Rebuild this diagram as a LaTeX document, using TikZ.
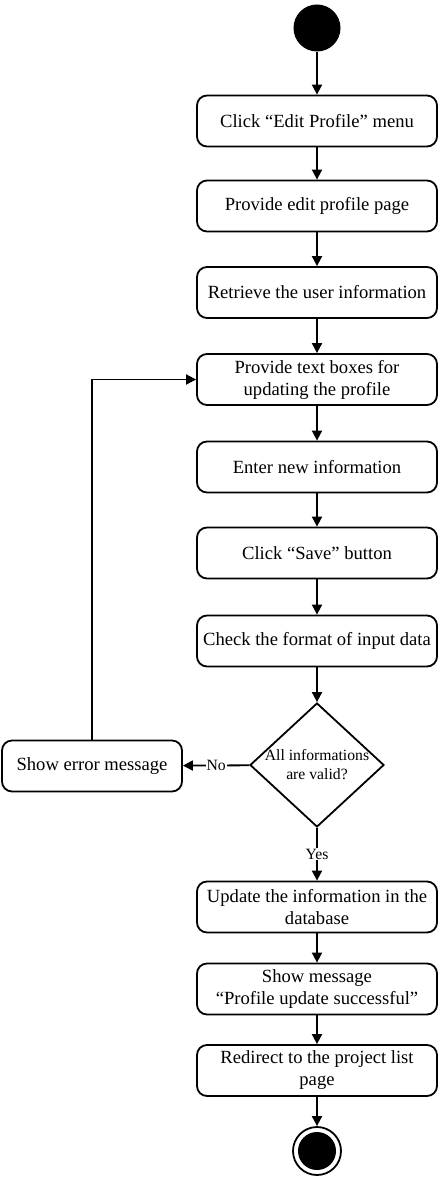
\documentclass[tikz,border=0pt]{standalone}
\usepackage{fontspec}
\setmainfont{Liberation Serif}
\usetikzlibrary{shapes.geometric,arrows.meta}

\begin{document}
\begin{tikzpicture}[x=1pt,y=-1pt,line width=1.8pt,
  >={Triangle[length=10pt,width=10pt]},
  activity/.style={draw,rounded corners=10pt,minimum width=240pt,minimum height=51pt,inner sep=2pt,align=center,font=\fontsize{18.6}{22}\selectfont},
  decision/.style={draw,diamond,aspect=1.08,minimum width=134pt,minimum height=124pt,inner sep=-3pt,align=center,font=\fontsize{15.7}{19}\selectfont},
  guard/.style={fill=white,inner sep=1pt,font=\fontsize{15.7}{18}\selectfont}]
\useasboundingbox (0,0) rectangle (442,1177);
\node [circle,fill,minimum size=47pt,inner sep=0pt] (v0) at (317,28) {};
\node [activity] (v1) at (317,121) {Click “Edit Profile” menu};
\node [activity] (v2) at (317,206) {Provide edit profile page};
\node [activity] (v3) at (317,292.5) {Retrieve the user information};
\node [activity] (v4) at (317,379.5) {Provide text boxes for\\updating the profile};
\node [activity] (v5) at (317,467) {Enter new information};
\node [activity] (v6) at (317,553) {Click “Save” button};
\node [activity] (v7) at (317,641) {Check the format of input data};
\node [decision] (v8) at (317,765) {All informations\\are valid?};
\node [activity,minimum width=180pt] (v9) at (92,766) {Show error message};
\node [activity] (v10) at (317,907) {Update the information in the\\database};
\node [activity] (v11) at (317,989) {Show message\\“Profile update successful”};
\node [activity] (v12) at (317,1070.5) {Redirect to the project list\\page};
\node [circle,draw,minimum size=48pt,inner sep=0pt,
  path picture={\fill (path picture bounding box.center) circle (19pt);}] (v13) at (317,1151) {};
\draw [->] (v0) edge (v1);
\draw [->] (v1) edge (v2);
\draw [->] (v2) edge (v3);
\draw [->] (v3) edge (v4);
\draw [->] (v4) edge (v5);
\draw [->] (v5) edge (v6);
\draw [->] (v6) edge (v7);
\draw [->] (v7) edge (v8);
\draw [->] (v8) edge node [guard] {No} (v9);
\draw [->] (v8) edge node [guard] {Yes} (v10);
\draw [->] (v9) |- (v4);
\draw [->] (v10) edge (v11);
\draw [->] (v11) edge (v12);
\draw [->] (v12) edge (v13);
\end{tikzpicture}
\end{document}
